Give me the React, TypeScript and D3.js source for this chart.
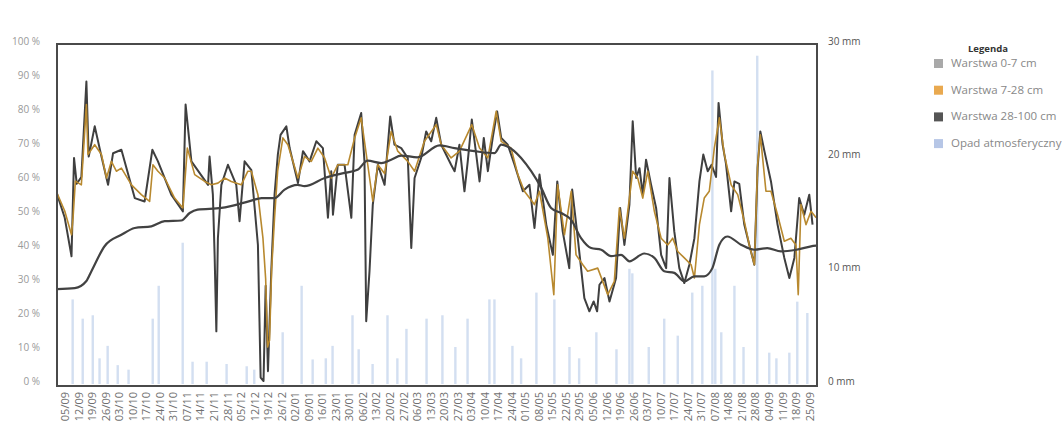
import { useEffect, useRef } from "react";
import * as d3 from "d3";

// day offsets are counted from 05/09 (first weekly tick)
const tickLabels = [
  "05/09", "12/09", "19/09", "26/09", "03/10", "10/10", "17/10", "24/10", "31/10", "07/11",
  "14/11", "21/11", "28/11", "05/12", "12/12", "19/12", "26/12", "02/01", "09/01", "16/01",
  "23/01", "30/01", "06/02", "13/02", "20/02", "27/02", "06/03", "13/03", "20/03", "27/03",
  "03/04", "10/04", "17/04", "24/04", "01/05", "08/05", "15/05", "22/05", "29/05", "05/06",
  "12/06", "19/06", "26/06", "03/07", "10/07", "17/07", "24/07", "31/07", "07/08", "14/08",
  "21/08", "28/08", "04/09", "11/09", "18/09", "25/09",
];

const pctTicks = [0, 10, 20, 30, 40, 50, 60, 70, 80, 90, 100];
const mmTicks = [0, 10, 20, 30];

// Warstwa 0-7 cm (spiky dark line)
const layer0to7: [number, number][] = [
  [-4, 55], [0, 48], [3.5, 36.7], [4.8, 65.6], [6.2, 58], [8.6, 60], [11.2, 88.1], [12.4, 66],
  [15.5, 74.9], [19, 66], [22.4, 57.7], [25, 67], [29.3, 68], [36.2, 53.8], [41.3, 52.8],
  [45.3, 68], [48.2, 64.6], [55.1, 54.8], [61.1, 49.9], [62.5, 81.3], [65.5, 64.6], [74.1, 57.7],
  [74.9, 66], [76.6, 54.8], [77.5, 37.1], [78.4, 14.6], [79.2, 42], [81, 57.7], [84.4, 63.6],
  [88.7, 57.7], [90.4, 47], [93, 64.6], [96.5, 62], [99.9, 40], [101.3, 1], [102.8, 0],
  [103.9, 28], [105.1, 2.9], [106.8, 32.3], [108.5, 54.8], [110.2, 66.6], [111.6, 72.4],
  [114.6, 74.9], [116.3, 68.5], [120.6, 58.2], [123.2, 67.6], [126.6, 64.6], [130.1, 70.5],
  [133.5, 68.5], [136.1, 48], [137.8, 61.7], [138.7, 48.9], [141.2, 63.6], [144.7, 63.6],
  [148.2, 48], [149.9, 72.4], [153.3, 78.8], [155, 64.6], [155.9, 17.6], [157.6, 32.3],
  [159.3, 51.9], [161.9, 63.6], [165.4, 57.7], [168.3, 77.8], [170.5, 69.5], [174, 68.5],
  [177.4, 65.6], [179.2, 39.1], [180.9, 59.7], [184.3, 65.6], [186.9, 73.4], [189.5, 70.5],
  [192.1, 77.4], [194.7, 69.5], [199.8, 63.6], [201.6, 61.7], [204.1, 69.5], [206.7, 55.8],
  [208.4, 64.6], [210.5, 76.9], [212.8, 66.6], [214.5, 58.7], [216.7, 71.5], [218.8, 61.7],
  [221.3, 71.5], [223.6, 79.3], [225.7, 71.5], [229.1, 69.5], [232.6, 63.6], [236.9, 55.8],
  [240.3, 57.7], [242.9, 45], [245.5, 60.7], [249, 46], [252.4, 37.1], [254.7, 58.7],
  [257.5, 44], [260.9, 33.2], [262.4, 56.3], [265.3, 42], [268.7, 24.4], [271.3, 20.5],
  [273.5, 23.4], [275.3, 20.5], [276.5, 28.3], [279.1, 30.3], [281.7, 23.4], [285.1, 30.3],
  [287.2, 50.9], [289.4, 40], [292, 51.9], [293.7, 76.4], [295.5, 59.7], [297.2, 62.6],
  [298.9, 54.8], [300.6, 65.1], [303.2, 57.7], [305.8, 50.9], [308.4, 37.1], [311, 33.2],
  [312.7, 59.7], [315.2, 44], [317.8, 33.2], [320.4, 28.8], [323, 34.2], [325.6, 42],
  [328.2, 58.7], [330.2, 66.6], [332.5, 61.7], [334.5, 63.6], [336.8, 60], [338.1, 81.8],
  [340.2, 69.5], [341.9, 64], [344.6, 49.9], [346.3, 58.7], [348.8, 58], [351.4, 46],
  [354, 40], [356.6, 34.2], [358.3, 62.6], [359.7, 73.4], [361.8, 67.6], [365.2, 58.7],
  [368.6, 46], [372.1, 36.2], [374.7, 30.3], [377.3, 36.2], [379.8, 53.8], [382.4, 48.9],
  [385, 54.8], [386.7, 46],
];

// Warstwa 7-28 cm (gold line)
const layer7to28: [number, number][] = [
  [-4, 55.3], [0, 50], [3.5, 43], [4.3, 48], [5.5, 58.8], [8.6, 57.7], [11.2, 81.3], [12, 66.6],
  [15.5, 69.5], [19, 66.6], [21.6, 59.7], [24.1, 64.6], [26.7, 61.7], [29.3, 62.6], [34.5, 57.7],
  [39.6, 54.8], [43.9, 52.8], [45.6, 63.6], [48.2, 61.7], [51.7, 59.7], [56.8, 53.8],
  [61.1, 50.9], [63.4, 68.5], [67.2, 60.7], [72.4, 58.7], [75.8, 57.7], [79.2, 58.2],
  [82.7, 59.7], [86.1, 58.7], [91.3, 57.7], [94.7, 61.7], [96.5, 61.7], [99.9, 54.8],
  [102.5, 42], [103.9, 30], [104.9, 10], [105.9, 12], [107, 33], [108.5, 48], [110.1, 61.7],
  [112.8, 71.5], [115.4, 69.5], [120.6, 59.7], [124, 66], [127.5, 64.6], [130.9, 68.5],
  [134.4, 65.6], [137.8, 59.7], [141.2, 63.6], [146.4, 63.6], [149.9, 71.5], [153.3, 77.4],
  [156.7, 63.6], [159.3, 52.9], [161.9, 63.6], [165.4, 61], [168.8, 73.4], [172.2, 67.6],
  [177.4, 64.6], [180.9, 61.7], [186, 70.5], [192.1, 75.4], [194.7, 69.5], [199.8, 65.6],
  [204.1, 67.6], [210.5, 75.4], [214.5, 68.5], [218.8, 65.6], [223.1, 79.3], [225.7, 70.5],
  [230.8, 68.5], [234.3, 60.7], [237.7, 55.8], [242.9, 51.9], [245.5, 55.8], [249.8, 42],
  [252.9, 25.4], [254.9, 57.7], [258.4, 43], [261.9, 55.8], [264.4, 37.1], [267.9, 34.2],
  [270.4, 32.3], [275.6, 33.2], [280.8, 25.4], [284.2, 29.3], [286.8, 50.9], [289.4, 42],
  [292, 53.8], [293.7, 61.7], [296.3, 59.7], [298.9, 53.8], [301.5, 61.7], [304.9, 49.9],
  [308.4, 42], [311.8, 40], [314.4, 42], [317, 38.1], [320.4, 36.2], [323.9, 34.2],
  [325.6, 30.3], [328.2, 46], [330.7, 53.8], [333.3, 55.8], [335.9, 68.5], [338.5, 77.4],
  [341.1, 66.6], [344.6, 57.7], [348, 54.8], [351.4, 47], [354, 40], [356.6, 34.2],
  [358.3, 63.6], [359.7, 72.4], [362.6, 55.8], [365.2, 55.8], [368.6, 48.9], [372.1, 41.1],
  [375.5, 42], [378.1, 40], [379.3, 25.4], [380.7, 51.9], [383.3, 46], [385.9, 49.9],
  [388.6, 48],
];

// Warstwa 28-100 cm (smooth dark line)
const layer28to100: [number, number][] = [
  [-4, 27], [5.2, 27.3], [11.2, 29.4], [13.8, 32.3], [20.7, 39.7], [29.3, 43], [36.2, 45],
  [44.8, 45.5], [51.7, 47], [60.3, 47.2], [64.6, 49.4], [68.7, 50.4], [81, 50.9], [95.6, 52.9],
  [101.8, 53.8], [108.5, 53.8], [113.7, 56.3], [120.4, 57.7], [124, 57.3], [134.4, 59.7],
  [144.7, 61.2], [151.4, 62.1], [156.6, 64.8], [163.7, 64.1], [168.8, 65.1], [174, 66.3],
  [182.4, 65.8], [193.8, 69.3], [201.6, 68.5], [211.9, 67.6], [222.2, 67], [225.7, 69.5],
  [228.9, 69], [236, 65.6], [241.2, 61.7], [246.4, 56.8], [251.5, 50.9], [256.7, 49.4],
  [261.9, 47.4], [267, 42], [272.2, 39.1], [277.4, 38.6], [282.5, 36.7], [287.7, 37.1],
  [292, 35.2], [299.7, 37.5], [304.9, 36.2], [310, 32.3], [315.2, 31.8], [320.4, 29.3],
  [325.6, 30.8], [330.7, 30.8], [334.9, 33.2], [338.5, 40.1], [342.6, 42.5], [349.7, 40.1],
  [356.6, 38.6], [363.3, 39.1], [370.4, 38.1], [378.3, 38.6], [385.9, 39.6], [388.6, 39.8],
];

// Opad atmosferyczny [day, mm]
const rain: [number, number][] = [
  [4.1, 7.2], [9.3, 5.5], [14.5, 5.8], [18, 2], [22.2, 3.1], [27.4, 1.4], [33, 1], [45.5, 5.5],
  [48.6, 8.4], [61, 12.2], [66.1, 1.7], [73.4, 1.7], [83.7, 1.5], [94.1, 1.3], [98, 1],
  [112.7, 4.3], [122.5, 8.4], [128.2, 1.9], [135, 2], [138.5, 3.1], [148.8, 5.8], [152, 2.8],
  [159.2, 1.5], [166.9, 5.8], [172, 2], [176.7, 4.6], [187.1, 5.5], [195.3, 5.8], [202, 3],
  [208.3, 5.5], [219.6, 7.2], [222.2, 7.2], [231.5, 3.1], [236, 2], [243.9, 7.8], [253.2, 7.2],
  [261, 3], [266, 2], [274.9, 4.3], [285.3, 2.8], [292, 9.9], [293.5, 9.5], [302, 3],
  [310, 5.5], [317, 4], [324.5, 7.8], [329.7, 8.4], [334.9, 27.4], [336.4, 9.9], [339.5, 4.3],
  [346.3, 8.4], [351, 3], [358.1, 28.7], [364.3, 2.5], [368, 2], [374.7, 2.5], [378.8, 7],
  [384, 6],
];

const legendItems = [
  { label: "Warstwa 0-7 cm", color: "#a9a9a9" },
  { label: "Warstwa 7-28 cm", color: "#e9a94f" },
  { label: "Warstwa 28-100 cm", color: "#555555" },
  { label: "Opad atmosferyczny", color: "#b6c6e6" },
];

const W = 1062, H = 432;
const plot = { left: 57, right: 817, top: 44, bottom: 386 };
const start = new Date(2020, 8, 5);
const dayToDate = (d: number) => new Date(start.getTime() + d * 86400000);

export default function App() {
  const svgRef = useRef<SVGSVGElement>(null);

  useEffect(() => {
    if (!svgRef.current) return;
    const svg = d3.select(svgRef.current);
    svg.selectAll("*").remove();
    const font = "'Open Sans', 'DejaVu Sans', sans-serif";

    const x = d3.scaleTime().domain([dayToDate(-4), dayToDate(389)]).range([plot.left, plot.right]);
    const y = d3.scaleLinear().domain([0, 100]).range([381, 41]);
    const yMm = d3.scaleLinear().domain([0, 30]).range([381, 41]);

    // rain bars
    svg.append("g").selectAll("rect").data(rain).join("rect")
      .attr("x", (d) => x(dayToDate(d[0])) - 1.2)
      .attr("width", 2.4)
      .attr("y", (d) => yMm(d[1]))
      .attr("height", (d) => yMm(0) - yMm(d[1]) + 3)
      .attr("fill", "#a7c0e4")
      .attr("opacity", 0.5);

    const line = (curve: d3.CurveFactory) =>
      d3.line<[number, number]>().x((d) => x(dayToDate(d[0]))).y((d) => y(d[1])).curve(curve);

    svg.append("path").datum(layer0to7).attr("fill", "none").attr("stroke", "#3f3f3f")
      .attr("stroke-width", 2).attr("stroke-linejoin", "round").attr("d", line(d3.curveLinear) as any);
    svg.append("path").datum(layer7to28).attr("fill", "none").attr("stroke", "#b8892f")
      .attr("stroke-width", 1.6).attr("stroke-linejoin", "round").attr("d", line(d3.curveLinear) as any);
    svg.append("path").datum(layer28to100).attr("fill", "none").attr("stroke", "#424242")
      .attr("stroke-width", 2.2).attr("d", line(d3.curveMonotoneX) as any);

    // frame
    svg.append("rect").attr("x", plot.left).attr("y", plot.top)
      .attr("width", plot.right - plot.left).attr("height", plot.bottom - plot.top)
      .attr("fill", "none").attr("stroke", "#4a4a4a").attr("stroke-width", 2);

    // left axis labels
    svg.append("g").selectAll("text").data(pctTicks).join("text")
      .attr("x", 40).attr("y", (d) => y(d)).attr("dy", "0.35em")
      .attr("text-anchor", "end").attr("font-family", font).attr("font-size", 10)
      .attr("fill", "#999").text((d) => `${d} %`);

    // right axis labels
    svg.append("g").selectAll("text").data(mmTicks).join("text")
      .attr("x", 828).attr("y", (d) => yMm(d)).attr("dy", "0.35em")
      .attr("font-family", font).attr("font-size", 10)
      .attr("fill", "#555").text((d) => `${d} mm`);

    // x axis
    const tickDates = tickLabels.map((_, i) => dayToDate(i * 7));
    const xAxis = svg.append("g").attr("transform", `translate(0,${plot.bottom})`)
      .call(d3.axisBottom(x).tickValues(tickDates).tickSize(0)
        .tickFormat((_, i) => tickLabels[i]));
    xAxis.select(".domain").remove();
    xAxis.selectAll("text")
      .attr("transform", "rotate(-90)")
      .attr("text-anchor", "end")
      .attr("x", -6).attr("y", 0).attr("dy", "0.35em")
      .attr("font-family", font).attr("font-size", 11).attr("fill", "#6f6f6f");

    // legend
    svg.append("text").attr("x", 968).attr("y", 52).attr("font-family", font)
      .attr("font-size", 9.5).attr("font-weight", "bold").attr("fill", "#333").text("Legenda");
    const lg = svg.append("g").selectAll("g").data(legendItems).join("g")
      .attr("transform", (_, i) => `translate(934,${67 + i * 26.7})`);
    lg.append("rect").attr("x", 0).attr("y", -8).attr("width", 9).attr("height", 9)
      .attr("fill", (d) => d.color);
    lg.append("text").attr("x", 17).attr("y", 0).attr("font-family", font)
      .attr("font-size", 11.5).attr("fill", "#888").text((d) => d.label);
  }, []);

  return (
    <svg ref={svgRef} width={W} height={H}
      style={{ position: "absolute", left: 0, top: 0, background: "#fff" }} />
  );
}
